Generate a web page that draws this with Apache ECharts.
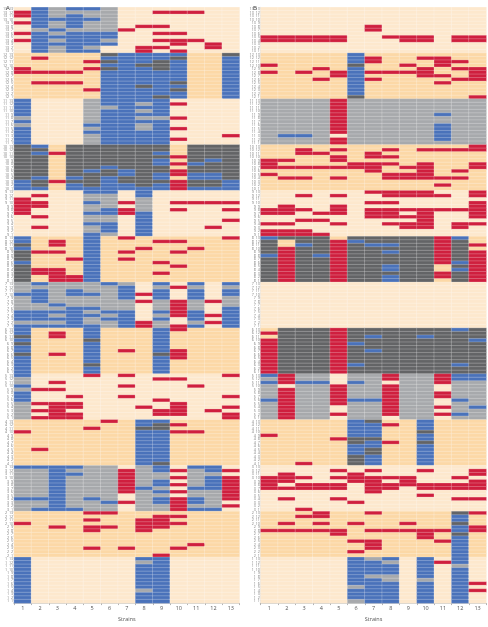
<!DOCTYPE html>
<html>
<head>
<meta charset="utf-8">
<title>Strains</title>
<script src="https://cdn.jsdelivr.net/npm/echarts@6/dist/echarts.min.js"></script>
<style>
html,body{margin:0;padding:0;background:#fff}
#main{width:488px;height:627px}
</style>
</head>
<body>
<div id="main"></div>
<script>
// . = no mark (row band colour), R = red, B = blue, G = grey, D = dark grey
// every group: 13 strings = strains 1..13, each string reads rows 13..1 top to bottom
var E = '.............';
var strains = ['1','2','3','4','5','6','7','8','9','10','11','12','13'];
var rowNumbers = [13,12,11,10,9,8,7,6,5,4,3,2,1];

var A13 = ['.RR.R..R.R...','BBBBBBGBBBBBB','GGGBGGBGBGBGG','BGBBBBGBBBBBB','BGGBGGGBBBBGB','GGGGGGGBBGB..','......R......','.....R.....RR','.R...R.R.R.R.','.R.....R.RR.R','.R.......R...','..........RR.',E];
var A12 = ['....RR.......','.R...R..R....','.....R..R....','.....R..R....','..R.R.....R..','DBDBDBBBBBBBB','BBBBBBBBBBBBB','BBBDBBBBBDBBB','BBDDDBBBBBBBD','BDBBBBBBDBDBB',E,E,'DBBBBBBBBBBBB'];
var A11 = ['BBBBBGBGBBBBB',E,E,E,'GGGGGGGBGBGGG','BBGBBBBBBBBBB','BBBBBBBBBBBBB','BGBGBGBGGBBBB','BBBBBGBBBBBBB','.R...R..R..R.',E,E,'..........R..'];
var A10 = ['DDDDDDDDDDBBB','BDBDDDDDDBDDB','..R.......R..','DDDDDDDDDBDBB','DDDDDDDBDDDDB','DDDDDDBDDBBBB','DDDDDDDBBDDBB','DDDDDDDDDDDDB','DDBDBBDDBBDBB','...R.R.RR.RRR','DDDDDBDDBBDDB','DDDDBDDDBBDDB','DDDDDDDDDDBBB'];
var A9 = ['..RRRRR......','.R.RR..R..R..',E,E,'BGGBGGBGGBGGB','BGGGGBBGGBBBG','...R.RR......','BBGGGGBBBBBBB',E,'...R.R.......','...R.........','...R......R..','...R.R..R....'];
var A8 = ['BBDBDDDBDDDDD','....R....RR..','.RR.R....RRRR','......R....RR','BBBBBBBBBBBBB',E,'R...R.R......','...R.........','.R.....R..R..','.R..R...R....','...R.........',E,'R............'];
var A7 = ['GGGBGGGGBBBGB','BGBBBBGGBBBGB','GGGGGGBGBGBGB','GGBBGGGBBBBBB','GGGBGGGBGBGGB','BGGGGGGGBGBGG','GBBBBGGGBBBBB','...R.R.....RR','BGBBBGGGBGBGG','.R...RRRRR..R','BGBBBGGGBBBGB','.....R...R.R.','BGBBGGGBBBBBB'];
var A6 = ['BBDBDBBDBBBBB',E,'.RR....R.....',E,'BBBDBBBBBBDBB',E,'......R......',E,'BBBBBBBDBBBBB','R.....RRR....',E,E,E];
var A5 = ['BGGBGBBBGGGGG','....R...R.R.R','..R.R...RRRRR','......R.RR.RR','R............',E,'R..R..R......','.........R...','.R.....R..RR.','.R......RRRR.','...R.........','..........R..','R.....R..R.RR'];
var A4 = ['...R.........','........R....',E,E,'..R..........','R............',E,'BBDBBBBBBBBBB','BDDBBBBBBBBBD','.R.R.........','...R.........',E,E];
var A3 = ['BGGGGGGGGBGGG','BGGGGGGGGBGGB','BBBBBBBBBBBBB','BGBGGGGGGGGGB','GGGGGGGGGBGGG','GGGGGGGGGGBGG','.RRRRRRR..R..','GGGGGGBGGGGGG','BBGGBBGBGBBGG','.R.R.R.R.RRRR','BGGGGGBGGBBGB','BBGBBBBGGGGGB','.R.RRRRRRR.R.'];
var A2 = ['...R.........',E,'....R........',E,'R.R.RR....R..','R...R........','..........R..','..RRRR.......','.RRRR.......R','.R.R......R..','.........R...',E,E];
var A1 = ['BBBBBBBBBBBBB',E,E,E,E,E,E,'BGBBBBBBBGBBB','BBBBBBBBBBBBB',E,E,E,E];

var B13 = ['........RR...','........RR...','........RR...','........RR...','........RR...',E,'.....RR......','........R....','........RR...','........RR...',E,'........RR...','........RR...'];
var B12 = ['...R.R.......',E,'.....R.......','....R..R.....','.....RR......','BBBDBBBBBBBBD','.RR..R.R.....','.....R.......','...R.R.......','.R..RRR......','.RRR..R.R....','..R.R..R.....','....RRRR....R'];
var B11 = ['GGGGGGGGGGGGG','GGGGGGGGGGBGG','GGGGGGGGGGBGG','GGGGGGGGGGGGG','RRRRRRRRRR.RR','GGGGGGGGGGGGG','GGGGGGGGGGGGG','GGGGGGGGGGGGG','GGGGGGGGGGGGG','GGGGGGGGGGGGG','GGGGBGGBBBBBG','GGGGGGGGGGGGG','GGGGGGGGGGGGG'];
var B10 = ['....RRR.R....','....R.R..R...','.RR...R..R...','..R...R......','.R.RR.R..R...','.....RR......','..RR.RRR.....','.R.R.R..RR...','......R.RR...','.R...RRRRR...','.R.......R.R.','.R.....R.R...','RR...RR......'];
var B9 = ['.....RR..R.RR','....RRR..R.RR','.R...R..R..RR','......R.R...R','.R..RRR..R...',E,'R..R.RRR.....','RR.R.RRR.R...','RR...R.R.RR..','RR...RRRRRR..','.R...R.......','.....R...RR..','RR.RRRRR.R...'];
var B8 = ['BDDDDBDDDDDDD','D..RRRRRRRRRR','DDBDDDDDDDDDD','DDDDDBDDDDDDD','.RRRRRRRRRRRR','DBDDDDDDDDDDD','DDBDDDDDDDDDD','DDBDBDDDBBDBB','DDDDDDDDDDDDD','DDDDDDDDDDDDD','RRRRRRRR..RR.','BDDDDDDBDBDDD','..R.RRRRRRRRR'];
var B7 = [E,E,E,E,E,E,E,E,E,E,E,E,E];
var B6 = ['.R.RRRRRRRRRR','DDDDDDDDDDDDD','DDDDDDDDDDDDD','DDDDDDDDDDDDD','RRRRRRRRRRRRR','DDDDBDDDDDBDD','DDBDDDBDDDDDD','DDDDDDDDDDDDD','DDDDDDDDDDDDD','DDBDDDDDDDDDD','DDDDDDDDDDDDD','BDDDDDDDDDBDD','DDDBDDDDDDDDD'];
var B5 = ['BGBGGGGBGGGGG','RRR.RRRRRRRRR','GGBGGGGGGGGGG','GGBGGGGGGGGGG','...RRRRRR..R.','GGBGGGGBGGGGG','GGGGGGGBGGGGG','RR.RRRRRRRRR.','GGGGGGGGGGGGG','GGGGGGGGGGGGG','RRR..RR..R.R.','BBGGGGGBGGGBG','BBGGGGGGGBGGG'];
var B4 = ['....R........',E,'............R',E,'.....R.......','BBBBBDDBBBDDD','DBBBBDBBDDBBB','.R....R......',E,'BBBDBBDBBBBBB',E,E,E];
var B3 = ['...RRRR......','..RRR.R..R...','...R.RR.....R','.....RR......','.R.R.RR..R...','..RRR.....R..','.R.RRRRR.....','...R.RR......','...RRR.......','.R...RR.R....','.....RR......','...R.RR..R...','.RR.RRR..R...'];
var B2 = ['.....R.......','...R.R.......','.R...R.......','RR.R.R.......','.....RR......','...R....R..R.','R....R..RRR..','.....R.......','...R.R.......','.....RRR.....','.....R..R....','DBBDBBDBBBBBB','R...RR.......'];
var B1 = [E,E,E,E,E,'BBBBBBBBGBBBG','GBBBBGBBBBBBB','BGBBBGGBBBBBB',E,'BBBBBBGBBBBBB','.R...........','BBGBBBBBBBBBB','.......R.R...'];

var panelA = [A13,A12,A11,A10,A9,A8,A7,A6,A5,A4,A3,A2,A1];
var panelB = [B13,B12,B11,B10,B9,B8,B7,B6,B5,B4,B3,B2,B1];
var groupNumbers = [13,12,11,10,9,8,7,6,5,4,3,2,1];

var stateColors = ['#fde8cd','#fcd8a6','#cf1f3e','#4a72ba','#a7a9ac','#636466'];
var stateIndex = {R:2,B:3,G:4,D:5};

// row labels "13  13" ... "1  1"
var rowLabels = [];
for (var g = 0; g < groupNumbers.length; g++) {
	for (var r = 0; r < rowNumbers.length; r++) {
		rowLabels.push(groupNumbers[g] + '  ' + rowNumbers[r]);
	}
}

function buildCells(panel) {
	var cells = [];
	for (var g = 0; g < panel.length; g++) {
		var band = groupNumbers[g] % 2 == 1 ? 0 : 1;
		for (var s = 0; s < panel[g].length; s++) {
			for (var r = 0; r < 13; r++) {
				var c = panel[g][s].charAt(r);
				cells.push([s, g * 13 + r, c == '.' ? band : stateIndex[c]]);
			}
		}
	}
	return cells;
}

function xAxisFor(idx) {
	return {
		type: 'category', gridIndex: idx, data: strains, position: 'bottom',
		name: 'Strains', nameLocation: 'middle', nameGap: 9,
		nameTextStyle: {fontSize: 5.5, color: '#555', fontFamily: 'Open Sans'},
		axisLine: {lineStyle: {color: '#888', width: 0.5}},
		axisTick: {show: true, length: 2, alignWithLabel: false, lineStyle: {color: '#666', width: 0.5}},
		axisLabel: {fontSize: 5.5, color: '#555', margin: 2, fontFamily: 'Open Sans', interval: 0},
		splitLine: {show: false}
	};
}
function yAxisFor(idx) {
	return {
		type: 'category', gridIndex: idx, data: rowLabels, inverse: true,
		axisLine: {lineStyle: {color: '#bbb', width: 0.5}},
		axisTick: {show: true, length: 1, lineStyle: {color: '#aaa', width: 0.4}},
		axisLabel: {fontSize: 3.6, color: '#777', margin: 1, interval: 0, fontFamily: 'Open Sans'},
		splitLine: {show: false}
	};
}
function seriesFor(idx, panel) {
	return {
		type: 'heatmap', xAxisIndex: idx, yAxisIndex: idx, data: buildCells(panel),
		progressive: 0, animation: false,
		itemStyle: {borderColor: 'rgba(255,255,255,0.45)', borderWidth: 0.5}
	};
}

var chart = echarts.init(document.getElementById('main'), null, {renderer: 'canvas'});
chart.setOption({
	animation: false,
	backgroundColor: '#fff',
	title: [
		{text: 'A', left: 1, top: 0, textStyle: {fontSize: 6, fontWeight: 'normal', color: '#333', fontFamily: 'Open Sans'}},
		{text: 'B', left: 248, top: 0, textStyle: {fontSize: 6, fontWeight: 'normal', color: '#333', fontFamily: 'Open Sans'}}
	],
	grid: [
		{left: 13.3, top: 7.3, width: 226.2, height: 606},
		{left: 260.7, top: 7.3, width: 225.6, height: 606}
	],
	visualMap: {
		type: 'piecewise', show: false, dimension: 2,
		pieces: stateColors.map(function(col, i) { return {value: i, color: col}; })
	},
	xAxis: [xAxisFor(0), xAxisFor(1)],
	yAxis: [yAxisFor(0), yAxisFor(1)],
	series: [seriesFor(0, panelA), seriesFor(1, panelB)]
});
</script>
</body>
</html>
